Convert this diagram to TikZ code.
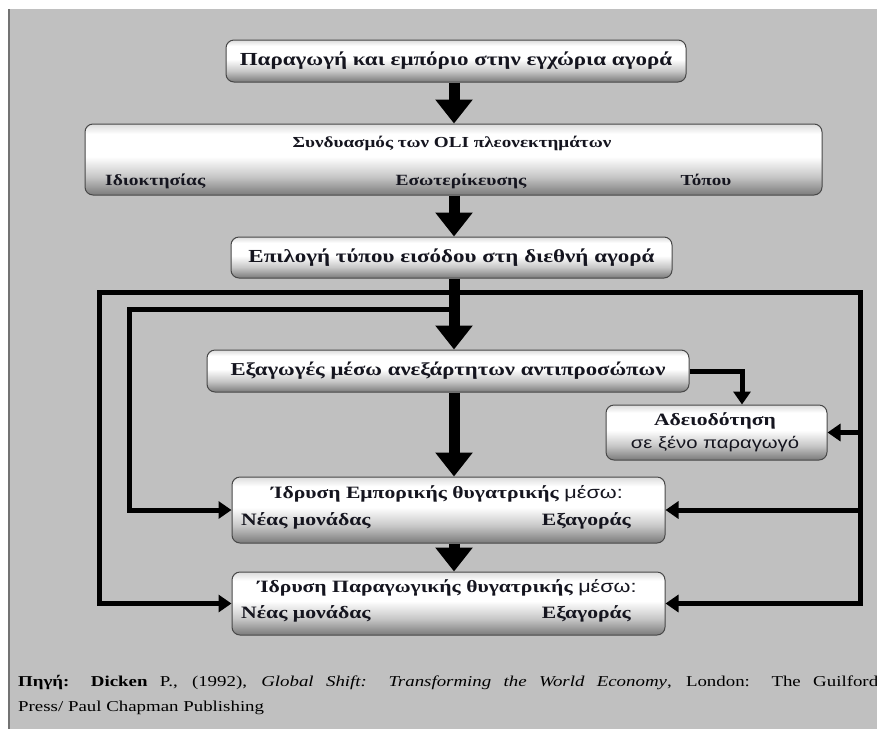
\documentclass[tikz,border=0pt]{standalone}
\usepackage{fontspec}
\setmainfont[FakeStretch=1.25]{Liberation Serif}
\newfontfamily\arialgr[FakeStretch=1.25]{Liberation Sans}
\usetikzlibrary{arrows.meta}
\newcommand\fsz[1]{\fontsize{#1}{#1}\selectfont}
\definecolor{paper}{HTML}{C0C0C0}
\definecolor{ink}{HTML}{15151F}
% grey-white-grey fill of the rounded boxes (path spans 25bp..75bp)
\pgfdeclareverticalshading{boxshade}{100bp}{color(0bp)=(black!52); color(25bp)=(black!52); color(38bp)=(black!22); color(52bp)=(white); color(68bp)=(white); color(75bp)=(black!14); color(100bp)=(black!14)}
\begin{document}
\begin{tikzpicture}[x=1pt,y=-1pt,
  box/.style={draw=black!72, line width=1pt, rounded corners=8pt, shade, shading=boxshade, inner sep=0pt, text=ink},
  lbl/.style={inner sep=0pt, text=ink},
  bigarrow/.style={line width=11pt, -{Triangle[width=36pt,length=24pt]}},
  fbline/.style={line width=5pt, line join=miter},
  fbarrow/.style={line width=5pt, line join=miter, -{Triangle[width=17pt,length=13pt]}}]
\useasboundingbox (0,0) rectangle (877,729);
\fill[white] (0,0) rectangle (877,729);
\fill[paper] (8,9) rectangle (877,729);
\draw[black!55, line width=1.6pt] (9,9) -- (9,729);

% boxes
\node[box, minimum width=460pt, minimum height=42pt, font=\fsz{18.4}\bfseries] (b1) at (456,61) {Παραγωγή και εμπόριο στην εγχώρια αγορά};
\node[box, minimum width=737pt, minimum height=71pt] (b2) at (453.5,159.5) {};
\node[box, minimum width=441pt, minimum height=41pt, font=\fsz{18.4}\bfseries] (b3) at (451.5,257.5) {Επιλογή τύπου εισόδου στη διεθνή αγορά};
\node[box, minimum width=482pt, minimum height=42pt, font=\fsz{18.2}\bfseries] (b4) at (448,371) {Εξαγωγές μέσω ανεξάρτητων αντιπροσώπων};
\node[box, minimum width=221pt, minimum height=55pt] (b5) at (716.5,432.5) {};
\node[box, minimum width=433pt, minimum height=66pt] (b6) at (448.5,510) {};
\node[box, minimum width=433pt, minimum height=63pt] (b7) at (448.5,603.5) {};

% texts inside the multi-part boxes
\node[lbl, anchor=base, font=\fsz{15.3}\bfseries] (oli) at (452,147) {Συνδυασμός των OLI πλεονεκτημάτων};
\node[lbl, anchor=base west, font=\fsz{15.6}\bfseries] (own) at (105,185) {Ιδιοκτησίας};
\node[lbl, anchor=base, font=\fsz{15.6}\bfseries] (int) at (461,185) {Εσωτερίκευσης};
\node[lbl, anchor=base, font=\fsz{15.3}\bfseries] (loc) at (706,185) {Τόπου};

\node[lbl, anchor=base, font=\fsz{17.3}\bfseries] (lic1) at (715,425) {Αδειοδότηση};
\node[lbl, anchor=base, font=\fsz{16.2}\arialgr] (lic2) at (715,448) {σε ξένο παραγωγό};

\node[lbl, anchor=base, font=\fsz{17.3}] (s1a) at (447,498) {\textbf{Ίδρυση Εμπορικής θυγατρικής} {\arialgr μέσω:}};
\node[lbl, anchor=base west, font=\fsz{17.4}\bfseries] (s1b) at (241,525) {Νέας μονάδας};
\node[lbl, anchor=base east, font=\fsz{17.3}\bfseries] (s1c) at (631,525) {Εξαγοράς};

\node[lbl, anchor=base, font=\fsz{17.3}] (s2a) at (447,592) {\textbf{Ίδρυση Παραγωγικής θυγατρικής} {\arialgr μέσω:}};
\node[lbl, anchor=base west, font=\fsz{17.4}\bfseries] (s2b) at (241,618) {Νέας μονάδας};
\node[lbl, anchor=base east, font=\fsz{17.3}\bfseries] (s2c) at (631,618) {Εξαγοράς};

% routing points
\coordinate (tx) at (454,0);
\coordinate (j1) at (454,292);
\coordinate (j2) at (454,309);
\coordinate (lc) at (99,292);
\coordinate (ic) at (129,309);
\coordinate (rc) at (860,292);
\coordinate (kx) at (742,0);

% feedback routes
\draw[fbarrow] (j1) -- (lc) |- (b7.west);
\draw[fbarrow] (j2) -- (ic) |- (b6.west);
\draw[fbarrow] (j1) -- (rc) |- (b7.east);
\draw[fbarrow] (rc |- b5.east) -- (b5.east);
\draw[fbarrow] (rc |- b6.east) -- (b6.east);
\draw[fbarrow] (b4.east) -| (b5.north -| kx);

% main sequence
\draw[bigarrow] (b1.south -| tx) -- (b2.north -| tx);
\draw[bigarrow] (b2.south -| tx) -- (b3.north -| tx);
\draw[bigarrow] (b3.south -| tx) -- (b4.north -| tx);
\draw[bigarrow] (b4.south -| tx) -- (b6.north -| tx);
\draw[bigarrow] (b6.south -| tx) -- (b7.north -| tx);

% source
\node[lbl, anchor=base west, text=black, font=\fsz{15.1}] (src1) at (18,686) {\makebox[860pt][s]{\textbf{Πηγή: Dicken} P., (1992), \textit{Global Shift: Transforming the World Economy}, London: The Guilford}};
\node[lbl, anchor=base west, text=black, font=\fsz{15.1}] (src2) at (18,711) {Press/ Paul Chapman Publishing};
\end{tikzpicture}
\end{document}
